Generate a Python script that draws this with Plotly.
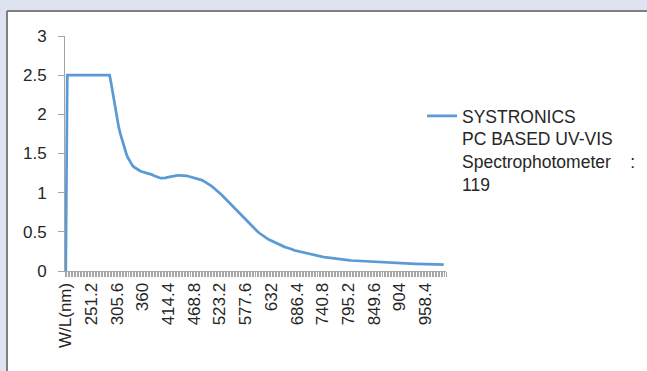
import plotly.graph_objects as go

# Wavelength grid of the scan (nm), 3.2 nm step from 200 to 1000
wavelengths = [f"{200 + 3.2 * k:.1f}".rstrip("0").rstrip(".") for k in range(251)]
categories = ["W/L(nm)"] + wavelengths

# Absorbance readings (first cell is the header row, plotted as 0)
absorbance = [
    0,
    # 200.0 - 289.6 (detector saturated)
    2.5, 2.5, 2.5, 2.5, 2.5, 2.5, 2.5, 2.5, 2.5, 2.5,
    2.5, 2.5, 2.5, 2.5, 2.5, 2.5, 2.5, 2.5, 2.5, 2.5,
    2.5, 2.5, 2.5, 2.5, 2.5, 2.5, 2.5, 2.5, 2.5,
    # 292.8 -
    2.40, 2.28, 2.16, 2.05, 1.94, 1.84, 1.76, 1.69, 1.63, 1.56,
    1.50, 1.45, 1.41, 1.38, 1.35, 1.33, 1.315, 1.30, 1.29, 1.28,
    1.27, 1.265, 1.26, 1.25, 1.245, 1.24, 1.235, 1.23, 1.22, 1.21,
    1.20, 1.195, 1.19, 1.185, 1.185, 1.19, 1.19, 1.195, 1.20, 1.205,
    1.21, 1.21, 1.215, 1.215, 1.22, 1.22, 1.22, 1.22, 1.22, 1.215,
    1.215, 1.21, 1.205, 1.20, 1.195, 1.19, 1.185, 1.18, 1.175, 1.17,
    1.16, 1.15, 1.14, 1.13, 1.115, 1.10, 1.09, 1.075, 1.06, 1.045,
    1.03, 1.01, 0.995, 0.975, 0.955, 0.935, 0.915, 0.895, 0.875, 0.855,
    0.835, 0.815, 0.795, 0.775, 0.755, 0.73, 0.71, 0.69, 0.67, 0.65,
    0.63, 0.61, 0.59, 0.57, 0.55, 0.535, 0.515, 0.50, 0.485, 0.47,
    0.455, 0.44, 0.425, 0.415, 0.405, 0.395, 0.385, 0.375, 0.365, 0.355,
    0.345, 0.335, 0.325, 0.32, 0.315, 0.305, 0.30, 0.295, 0.285, 0.28,
    0.275, 0.265, 0.26, 0.255, 0.25, 0.245, 0.24, 0.235, 0.23, 0.225,
    0.22, 0.215, 0.21, 0.205, 0.20, 0.198, 0.195, 0.19, 0.187, 0.184,
    0.18, 0.177, 0.174, 0.171, 0.168, 0.165, 0.162, 0.16, 0.157, 0.155,
    0.152, 0.15, 0.148, 0.146, 0.144, 0.142, 0.14, 0.138, 0.136, 0.134,
    0.133, 0.131, 0.129, 0.128, 0.126, 0.125, 0.123, 0.122, 0.12, 0.119,
    0.118, 0.116, 0.115, 0.114, 0.111, 0.110, 0.109, 0.108, 0.107, 0.106,
    0.105, 0.104, 0.103, 0.103, 0.102, 0.102, 0.101, 0.100, 0.100, 0.099,
    0.099, 0.098, 0.097, 0.097, 0.096, 0.096, 0.095, 0.095, 0.094, 0.094,
    0.093, 0.092, 0.092, 0.091, 0.091, 0.090, 0.089, 0.089, 0.088, 0.087,
    0.087, 0.086, 0.085, 0.085, 0.084, 0.083, 0.083, 0.082, 0.081, 0.081,
    0.080,
]

series_name = "SYSTRONICS<br>PC BASED UV-VIS<br>Spectrophotometer\u00a0\u00a0\u00a0\u00a0:<br>119"

FONT = "Liberation Sans, Arial, sans-serif"
TEXT = "#262626"
AXIS = "#A6A6A6"
FRAME = "#7F7F7F"

fig = go.Figure()
fig.add_trace(go.Scatter(
    x=categories,
    y=absorbance,
    mode="lines",
    name=series_name,
    line=dict(color="#5B9BD5", width=2.75),
))

W, H = 647, 371
L, R, T, B = 65, 201, 36, 100
pw, ph = W - L - R, H - T - B

def px(x):
    return (x - L) / pw

def py(y):
    return (H - B - y) / ph

# white chart panel, framed on its top and left edges (runs off the right/bottom)
fig.add_shape(type="rect", xref="paper", yref="paper", layer="below",
              x0=px(7), x1=px(W), y0=py(11), y1=py(H),
              fillcolor="white", line=dict(width=0))
fig.add_shape(type="line", xref="paper", yref="paper", layer="below",
              x0=px(7), x1=px(W), y0=py(11), y1=py(11),
              line=dict(color=FRAME, width=2))
fig.add_shape(type="line", xref="paper", yref="paper", layer="below",
              x0=px(7), x1=px(7), y0=py(11), y1=py(H),
              line=dict(color=FRAME, width=2))

fig.update_layout(
    width=W, height=H,
    margin=dict(l=L, r=R, t=T, b=B, pad=0, autoexpand=False),
    paper_bgcolor="#DFE3F1",
    plot_bgcolor="white",
    font=dict(family=FONT, size=17, color=TEXT),
    showlegend=True,
    legend=dict(
        x=px(422), xanchor="left", y=py(98), yanchor="top",
        valign="top", bgcolor="rgba(0,0,0,0)",
        font=dict(family=FONT, size=17.5, color=TEXT),
        itemwidth=30,
    ),
    xaxis=dict(
        type="category",
        categoryorder="array", categoryarray=categories,
        range=[-0.5, len(categories) - 0.5],
        tickmode="linear", tick0=0, dtick=1, ticklabelstep=17,
        tickson="boundaries",
        ticks="outside", ticklen=5, tickwidth=1, tickcolor=AXIS,
        tickangle=-90,
        showline=True, linecolor=AXIS, linewidth=1,
        showgrid=False, zeroline=False,
        ticklabelstandoff=4,
        tickfont=dict(family=FONT, size=17, color=TEXT),
    ),
    yaxis=dict(
        range=[0, 3], tickmode="linear", tick0=0, dtick=0.5,
        ticks="outside", ticklen=6, tickcolor=AXIS,
        showline=True, linecolor=AXIS, linewidth=1,
        showgrid=False, zeroline=False,
        ticklabelstandoff=8,
        tickfont=dict(family=FONT, size=17, color=TEXT),
    ),
)

fig.write_html("out.html", config={"displayModeBar": False})
